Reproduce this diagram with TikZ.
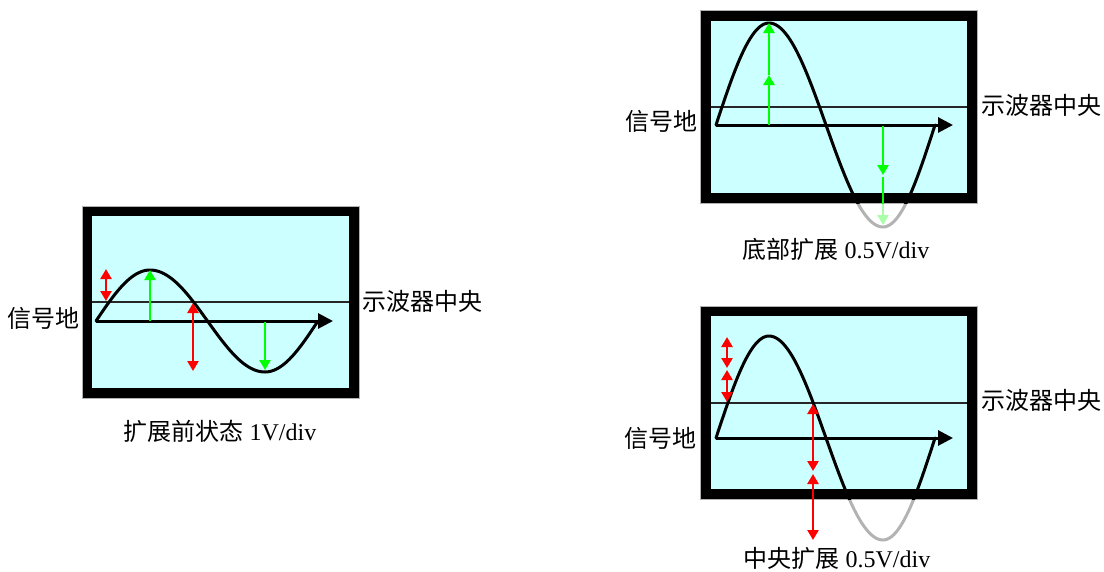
\documentclass[tikz,border=0pt]{standalone}
\usepackage{fontspec}
\setmainfont{Liberation Serif}
\newfontfamily\cjk{Noto Sans CJK SC}
\usetikzlibrary{arrows.meta}
\definecolor{scr}{HTML}{CCFFFF}
\definecolor{grn}{HTML}{00FF00}
\definecolor{lgrn}{HTML}{A8FFA8}
\definecolor{rd}{HTML}{FF0000}
\definecolor{gry}{HTML}{B3B3B3}
\newcommand\mywave[6]{plot[domain=0:90,samples=25,smooth] ({#1+(#2-#1)*(\x/90)},{#5-#6*sin(\x)}) -- plot[domain=90:270,samples=50,smooth] ({#2+(#3-#2)*((\x-90)/180)},{#5-#6*sin(\x)}) -- plot[domain=270:360,samples=25,smooth] ({#3+(#4-#3)*((\x-270)/90)},{#5-#6*sin(\x)})}
\tikzset{
 framebox/.style={fill=black, draw=gray!60, line width=0.8pt},
 screen/.style={fill=scr},
 midline/.style={draw=black!85, line width=1.1pt},
 gndarrow/.style={line width=3pt, -{Triangle[length=15pt,width=15pt]}},
 wave/.style={line width=3pt, line join=round, line cap=round},
 gwave/.style={wave, draw=gry},
 garr/.style={color=grn, line width=2.6pt, -{Triangle[length=10pt,width=11pt]}},
 farr/.style={garr, color=lgrn},
 rarr/.style={color=rd, line width=2.6pt, {Triangle[length=10pt,width=11pt]}-{Triangle[length=10pt,width=11pt]}},
 lbl/.style={inner sep=0pt, font=\fontsize{24}{28}\selectfont},
}
\begin{document}
\begin{tikzpicture}[x=1pt,y=-1pt]
\useasboundingbox (0,0) rectangle (1104,571);
% ---------- left panel ----------
\path[framebox] (82,206) rectangle (359,398);
\path[screen] (92,216) rectangle (349,388);
\draw[midline] (92,302) -- (349,302);
\draw[gndarrow] (96,321) -- (333,321);
\draw[wave] \mywave{96}{150}{265}{318}{321}{51};
\draw[garr] (150,321) -- (150,270);
\draw[garr] (265,322) -- (265,370);
\draw[rarr] (106,269) -- (106,301);
\draw[rarr] (193,303) -- (193,371);
\node[lbl, anchor=east] (gl) at (80,318) {\cjk 信号地};
\node[lbl, anchor=west] (cl) at (362,301) {\cjk 示波器中央};
\node[lbl] (capl) at (220,431) {{\cjk 扩展前状态} 1V/div};
% ---------- top right panel ----------
\draw[gwave] \mywave{716}{769}{883}{935}{125}{102};
\draw[farr] (883,177) -- (883,225);
\path[framebox] (700,10) rectangle (977,203);
\path[screen] (711,21) rectangle (967,193);
\draw[midline] (711,107) -- (967,107);
\draw[gndarrow] (716,125) -- (953,125);
\begin{scope}
\clip (700,10) rectangle (977,203);
\draw[wave] \mywave{716}{769}{883}{935}{125}{102};
\draw[garr] (769,125) -- (769,75);
\draw[garr] (769,75) -- (769,23);
\draw[garr] (883,126) -- (883,175);
\draw[garr] (883,177) -- (883,225);
\end{scope}
\node[lbl, anchor=east] (gt) at (698,121) {\cjk 信号地};
\node[lbl, anchor=west] (ct) at (981,105) {\cjk 示波器中央};
\node[lbl] (capt) at (836,249) {{\cjk 底部扩展} 0.5V/div};
% ---------- bottom right panel ----------
\draw[gwave] \mywave{716}{769}{883}{935}{438}{102};
\path[framebox] (700,306) rectangle (977,499);
\path[screen] (711,316) rectangle (967,489);
\draw[midline] (711,403) -- (967,403);
\draw[gndarrow] (716,438) -- (953,438);
\begin{scope}
\clip (700,306) rectangle (977,499);
\draw[wave] \mywave{716}{769}{883}{935}{438}{102};
\end{scope}
\draw[rarr] (727,337) -- (727,368);
\draw[rarr] (727,370) -- (727,402);
\draw[rarr] (813,404) -- (813,471);
\draw[rarr] (813,474) -- (813,540);
\node[lbl, anchor=east] (gb) at (697,438) {\cjk 信号地};
\node[lbl, anchor=west] (cb) at (981,400) {\cjk 示波器中央};
\node[lbl] (capb) at (837,558) {{\cjk 中央扩展} 0.5V/div};
\end{tikzpicture}
\end{document}
